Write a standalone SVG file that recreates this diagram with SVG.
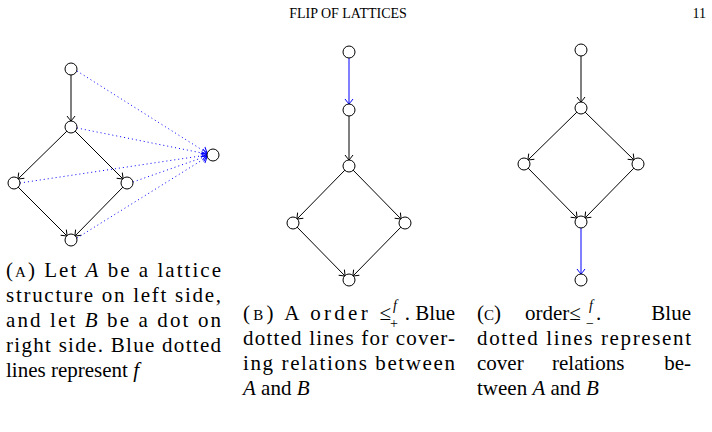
<svg xmlns="http://www.w3.org/2000/svg" width="712" height="432" viewBox="0 0 712 432">
<style>
.n{fill:#fff;stroke:#000;stroke-width:1}
.e{stroke:#000;stroke-width:1;fill:none;marker-end:url(#a)}
.b{stroke:#00f;stroke-width:1;fill:none;marker-end:url(#ab)}
.db{stroke:#00f;stroke-width:1;fill:none;stroke-dasharray:1 3;marker-end:url(#ab)}
text{font-family:"Liberation Serif",serif;font-size:21px;fill:#000}
.sc{font-size:15px}
.i{font-style:italic}
.s{font-size:14px}
</style>
<defs>
<marker id="a" viewBox="-6 -5 7 10" markerWidth="7" markerHeight="10" refX="0" refY="0" orient="auto" markerUnits="userSpaceOnUse"><path d="M-5,-4 Q-1,-1 0,0 Q-1,1 -5,4" fill="none" stroke="#000" stroke-width="1"/></marker>
<marker id="ab" viewBox="-6 -5 7 10" markerWidth="7" markerHeight="10" refX="0" refY="0" orient="auto" markerUnits="userSpaceOnUse"><path d="M-5,-4 Q-1,-1 0,0 Q-1,1 -5,4" fill="none" stroke="#00f" stroke-width="1"/></marker>
</defs>
<text x="348" y="18" text-anchor="middle" style="font-size:14px">FLIP OF LATTICES</text>
<text x="706" y="18" text-anchor="end" style="font-size:14px">11</text>
<g id="connectors">
<line class="e" x1="71" y1="75" x2="71" y2="121"/>
<line class="e" x1="67" y1="131" x2="18" y2="179"/>
<line class="e" x1="75" y1="131" x2="123" y2="179"/>
<line class="e" x1="18" y1="187" x2="67" y2="236"/>
<line class="e" x1="123" y1="187" x2="75" y2="236"/>
<line class="db" x1="77" y1="71" x2="207" y2="153"/>
<line class="db" x1="77" y1="128" x2="207" y2="154"/>
<line class="db" x1="20" y1="183" x2="207" y2="155"/>
<line class="db" x1="133" y1="182" x2="207" y2="156"/>
<line class="db" x1="77" y1="238" x2="207" y2="157"/>
<line class="b" x1="349" y1="58" x2="349" y2="104"/>
<line class="e" x1="349" y1="116" x2="349" y2="160"/>
<line class="e" x1="345" y1="170" x2="297" y2="219"/>
<line class="e" x1="353" y1="170" x2="401" y2="219"/>
<line class="e" x1="297" y1="227" x2="345" y2="276"/>
<line class="e" x1="401" y1="227" x2="353" y2="276"/>
<line class="e" x1="581" y1="56" x2="581" y2="102"/>
<line class="e" x1="577" y1="112" x2="528" y2="160"/>
<line class="e" x1="585" y1="112" x2="634" y2="160"/>
<line class="e" x1="528" y1="168" x2="577" y2="218"/>
<line class="e" x1="634" y1="168" x2="585" y2="218"/>
<line class="b" x1="581" y1="228" x2="581" y2="274"/>
</g>
<g id="A_top"><circle class="n" cx="71" cy="69" r="6"/></g>
<g id="A_mid"><circle class="n" cx="71" cy="127" r="6"/></g>
<g id="A_left"><circle class="n" cx="14" cy="183" r="6"/></g>
<g id="A_right"><circle class="n" cx="127" cy="183" r="6"/></g>
<g id="A_bot"><circle class="n" cx="71" cy="240" r="6"/></g>
<g id="B_dot"><circle class="n" cx="213" cy="155" r="6"/></g>
<g id="B1"><circle class="n" cx="349" cy="52" r="6"/></g>
<g id="B2"><circle class="n" cx="349" cy="110" r="6"/></g>
<g id="B3"><circle class="n" cx="349" cy="166" r="6"/></g>
<g id="B4"><circle class="n" cx="293" cy="223" r="6"/></g>
<g id="B5"><circle class="n" cx="405" cy="223" r="6"/></g>
<g id="B6"><circle class="n" cx="349" cy="280" r="6"/></g>
<g id="C1"><circle class="n" cx="581" cy="50" r="6"/></g>
<g id="C2"><circle class="n" cx="581" cy="108" r="6"/></g>
<g id="C3"><circle class="n" cx="524" cy="164" r="6"/></g>
<g id="C4"><circle class="n" cx="638" cy="164" r="6"/></g>
<g id="C5"><circle class="n" cx="581" cy="222" r="6"/></g>
<g id="C6"><circle class="n" cx="581" cy="280" r="6"/></g>
<g id="captionA">
<text x="6" y="277" textLength="215" lengthAdjust="spacing">(<tspan class="sc">A</tspan>) Let <tspan class="i">A</tspan> be a lattice</text>
<text x="6" y="302" textLength="215" lengthAdjust="spacing">structure on left side,</text>
<text x="6" y="327" textLength="215" lengthAdjust="spacing">and let <tspan class="i">B</tspan> be a dot on</text>
<text x="6" y="352" textLength="215" lengthAdjust="spacing">right side. Blue dotted</text>
<text x="6" y="377">lines represent <tspan class="i">f</tspan></text>
</g>
<g id="captionB">
<text x="243" y="320" textLength="148" lengthAdjust="spacing">(<tspan class="sc">B</tspan>) A order ≤</text>
<text x="393" y="310" class="s i">f</text>
<text x="390" y="328" class="s">+</text>
<text x="455" y="320" text-anchor="end">. Blue</text>
<text x="243" y="345" textLength="212" lengthAdjust="spacing">dotted lines for cover-</text>
<text x="243" y="370" textLength="212" lengthAdjust="spacing">ing relations between</text>
<text x="243" y="395"><tspan class="i">A</tspan> and <tspan class="i">B</tspan></text>
</g>
<g id="captionC">
<text x="477" y="320">(<tspan class="sc">C</tspan>)</text>
<text x="525" y="320">order≤</text>
<text x="589" y="310" class="s i">f</text>
<text x="586" y="328" class="s">−</text>
<text x="596" y="320">.</text>
<text x="691" y="320" text-anchor="end">Blue</text>
<text x="477" y="345" textLength="214" lengthAdjust="spacing">dotted lines represent</text>
<text x="477" y="370">cover</text>
<text x="552" y="370">relations</text>
<text x="691" y="370" text-anchor="end">be-</text>
<text x="477" y="395">tween <tspan class="i">A</tspan> and <tspan class="i">B</tspan></text>
</g>
</svg>
